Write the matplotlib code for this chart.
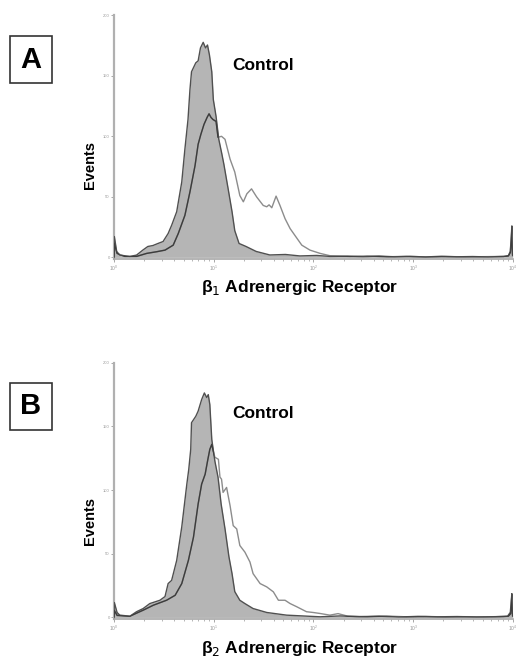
import numpy as np
import matplotlib.pyplot as plt
from matplotlib.patches import Rectangle
from matplotlib.ticker import LogFormatterMathtext

plt.rcParams['font.family'] = ['Liberation Sans', 'DejaVu Sans']

# channel (0-1023, 4-decade log amp) and event counts
# panel A (beta1)
a_ctrl_ch = [0, 1, 7, 15, 41, 58, 74, 87, 100, 113, 126, 139, 148, 161, 174, 182, 190, 195, 199,
             210, 216, 222, 229, 235, 240, 245, 251, 255, 262, 269, 277, 282, 293, 303, 310, 321,
             339, 365, 400, 440, 477, 520, 554, 600, 640, 680, 720, 760, 800, 840, 880, 920, 960,
             1000, 1012, 1017, 1020, 1021, 1022, 1023]
a_ctrl_ct = [0, 17.2, 4.9, 1.9, 0.8, 1.9, 6.0, 9.0, 9.8, 11.5, 13.1, 19.7, 26.5, 37.7, 62.3, 89.3,
             113.9, 138.5, 153.3, 160.7, 162.3, 173.0, 177.6, 173.0, 175.4, 167.2, 153.3, 130.3,
             116.4, 97.5, 85.2, 77.0, 56.6, 37.7, 22.1, 11.5, 9.0, 4.9, 2.0, 2.4, 1.2, 1.6, 0.8,
             1.0, 0.6, 1.1, 0.5, 0.8, 0.4, 0.9, 0.5, 0.7, 0.4, 0.8, 1.5, 5.0, 20.0, 26.0, 10.0, 2.0]
a_samp_ch = [0, 1, 8, 28, 58, 84, 110, 131, 152, 165, 182, 195, 208, 216, 223, 231, 239, 244, 249,
             254, 262, 267, 276, 285, 298, 310, 323, 332, 341, 353, 366, 383, 392, 398, 405, 416,
             426, 439, 452, 464, 482, 503, 529, 554, 606, 650, 700, 750, 800, 850, 900, 950, 1000,
             1012, 1017, 1020, 1021, 1022, 1023]
a_samp_ct = [0, 11.5, 3.3, 0.8, 0.8, 3.3, 4.7, 6.0, 10.1, 19.7, 34.7, 54.1, 75.7, 93.4, 101.6,
             109.8, 115.6, 118.6, 115.6, 113.9, 112.3, 99.2, 100.0, 97.5, 81.1, 70.5, 51.1, 45.9,
             52.5, 56.6, 50.0, 42.9, 41.8, 43.4, 41.0, 50.6, 42.9, 32.0, 23.8, 18.3, 10.1, 6.0,
             3.3, 1.4, 0.8, 1.2, 0.5, 0.9, 0.4, 0.7, 0.5, 0.6, 0.8, 1.2, 4.0, 18.0, 24.0, 8.0, 1.5]

# panel B (beta2)
b_ctrl_ch = [0, 1, 8, 15, 41, 58, 75, 92, 118, 131, 139, 148, 161, 174, 187, 192, 197, 199, 210,
             216, 225, 232, 238, 242, 246, 251, 259, 267, 275, 285, 295, 303, 310, 323, 336, 357,
             392, 443, 529, 580, 630, 680, 730, 780, 830, 880, 930, 980, 1010, 1017, 1020, 1021,
             1022, 1023]
b_ctrl_ct = [0, 11.7, 3.9, 1.8, 1.0, 4.5, 7.0, 10.9, 13.5, 16.4, 26.6, 29.1, 44.8, 71.1, 104.7,
             116.4, 132.0, 152.9, 158.0, 162.0, 171.1, 176.3, 172.7, 175.0, 167.2, 139.8, 122.7,
             110.2, 89.1, 69.5, 47.7, 34.4, 20.3, 13.5, 10.9, 7.0, 3.9, 1.8, 0.5, 1.2, 0.6, 1.0,
             0.4, 0.8, 0.5, 0.7, 0.4, 0.6, 1.0, 4.0, 15.0, 18.7, 8.0, 1.5]
b_samp_ch = [0, 1, 8, 41, 75, 101, 135, 157, 174, 191, 204, 216, 225, 234, 241, 246, 251, 255,
             259, 268, 272, 276, 280, 289, 298, 306, 315, 323, 336, 349, 357, 375, 392, 409, 422,
             439, 452, 469, 494, 511, 529, 554, 575, 600, 650, 700, 750, 800, 850, 900, 950, 1000,
             1012, 1018, 1020, 1021, 1022, 1023]
b_samp_ct = [0, 5.5, 1.6, 1.0, 5.7, 9.6, 13.5, 17.4, 26.6, 44.8, 63.0, 89.1, 104.7, 112.5, 124.2,
             132.0, 135.9, 130.5, 125.8, 124.2, 110.2, 108.6, 98.2, 102.1, 87.7, 72.1, 69.5, 56.5,
             51.3, 43.5, 34.4, 26.6, 24.0, 20.1, 13.5, 13.5, 10.9, 8.4, 4.5, 3.9, 3.1, 1.8, 3.0,
             1.0, 0.6, 1.1, 0.5, 0.8, 0.4, 0.6, 0.5, 0.7, 1.0, 3.0, 14.0, 17.0, 6.0, 1.0]

panels = [
    ('A', r'β$_1$ Adrenergic Receptor', a_ctrl_ch, a_ctrl_ct, a_samp_ch, a_samp_ct),
    ('B', r'β$_2$ Adrenergic Receptor', b_ctrl_ch, b_ctrl_ct, b_samp_ch, b_samp_ct),
]
y_ticks = [0, 50, 100, 150, 200]


def to_intensity(ch):
    return 10 ** (np.asarray(ch, dtype=float) / 256.0)


fig = plt.figure(figsize=(5.3, 6.62), dpi=100)
axes_rects = [[0.215, 0.609, 0.753, 0.368], [0.215, 0.065, 0.753, 0.387]]
box_tops = [36, 383]
ylabel_y = [165, 521]
control_y = [65, 413]
xlabel_y = [288, 648]

for i, (letter, xlab, c_ch, c_ct, s_ch, s_ct) in enumerate(panels):
    ax = fig.add_axes(axes_rects[i])
    cx, cy = to_intensity(c_ch), np.asarray(c_ct)
    sx, sy = to_intensity(s_ch), np.asarray(s_ct)

    fill = ax.fill_between(cx, cy, 0, color='#b5b5b5', lw=0, zorder=1)
    ax.plot(cx, cy, color='#505050', lw=1.0, zorder=3)
    ax.plot(sx, sy, color='#8c8c8c', lw=1.0, zorder=2)
    # sample line looks darker where it runs over the filled control
    inner, = ax.plot(sx, sy, color='#3c3c3c', lw=1.0, zorder=4)
    inner.set_clip_path(fill.get_paths()[0], ax.transData)

    ax.set_xscale('log')
    ax.set_xlim(1, 1e4)
    ax.set_ylim(-1.2, 200)
    ax.set_yticks(y_ticks)
    ax.tick_params(axis='y', labelsize=3, colors='#999999', length=2, width=0.6, pad=1)
    ax.xaxis.set_major_formatter(LogFormatterMathtext())
    ax.tick_params(axis='x', which='major', labelsize=3.5, colors='#999999', length=2.5,
                   width=0.6, pad=1)
    ax.tick_params(axis='x', which='minor', colors='#999999', length=1.5, width=0.5)
    for side in ['top', 'right']:
        ax.spines[side].set_visible(False)
    ax.spines['left'].set_color('#b0b0b0')
    ax.spines['left'].set_linewidth(1.6)
    ax.spines['bottom'].set_color('#a8a8a8')
    ax.spines['bottom'].set_linewidth(1.2)
    ax.patch.set_alpha(0)

    # panel letter box
    bx, by, bw, bh = 10, box_tops[i], 42, 47
    fig.patches.append(Rectangle((bx / 530, 1 - (by + bh) / 662), bw / 530, bh / 662,
                                 transform=fig.transFigure, fill=False, ec='#333333', lw=1.2))
    fig.text((bx + bw / 2) / 530, 1 - (by + bh / 2) / 662, letter, ha='center', va='center',
             fontsize=21, fontweight='bold', color='black')

    fig.text(90 / 530, 1 - ylabel_y[i] / 662, 'Events', rotation=90, ha='center', va='center',
             fontsize=10.5, fontweight='bold')
    fig.text(232 / 530, 1 - control_y[i] / 662, 'Control', ha='left', va='center',
             fontsize=12.5, fontweight='bold')
    fig.text(300 / 530, 1 - xlabel_y[i] / 662, xlab, ha='center', va='center',
             fontsize=12.5, fontweight='bold')

plt.savefig('out.png', dpi=100)
